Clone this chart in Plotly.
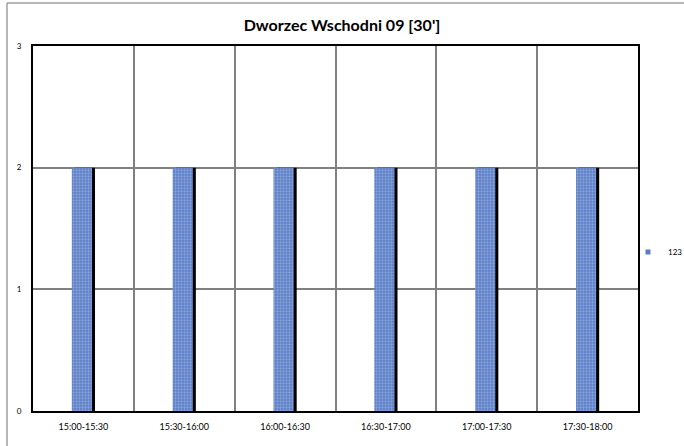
import plotly.graph_objects as go

categories = ["15:00-15:30", "15:30-16:00", "16:00-16:30", "16:30-17:00", "17:00-17:30", "17:30-18:00"]
values = [2, 2, 2, 2, 2, 2]
series_name = "123"
title = "Dworzec Wschodni 09 [30']"
y_ticks = [0, 1, 2, 3]

FONT = "Lato, 'Liberation Sans', sans-serif"
BAR_COLOR = "#5a7ec6"

fig = go.Figure()
# shadow
fig.add_trace(go.Bar(
    x=categories, y=values, width=0.2, offset=-0.085,
    marker=dict(color="black", line=dict(width=0)),
    showlegend=False, hoverinfo="skip",
))
fig.add_trace(go.Bar(
    x=categories, y=values, width=0.2, offset=-0.115, name=series_name, showlegend=False,
    marker=dict(color=BAR_COLOR, line=dict(width=0),
                pattern=dict(shape=".", fgcolor="#b7c8ec", size=3, solidity=0.45, fillmode="overlay")),
))
# legend entry with a small square symbol
fig.add_trace(go.Scatter(
    x=[None], y=[None], mode="markers", name=series_name,
    marker=dict(symbol="square", size=5, color=BAR_COLOR),
))

W, H = 684, 446
ml, mr, mt, mb = 33, 46, 46, 35
pw, ph = W - ml - mr, H - mt - mb

fig.update_layout(
    width=W, height=H,
    margin=dict(l=ml, r=mr, t=mt, b=mb, autoexpand=False),
    paper_bgcolor="white", plot_bgcolor="white",
    barmode="overlay",
    font=dict(family=FONT, size=8, color="black"),
    title=dict(text="<b>" + title + "</b>", x=0.5, xanchor="center", y=1 - 25 / H, yanchor="middle",
               font=dict(family=FONT, size=16, color="black")),
    showlegend=True,
    legend=dict(x=(628 - ml) / pw, y=(H - mb - 252) / ph,
                xanchor="left", yanchor="middle", font=dict(size=8, family=FONT),
                bgcolor="rgba(0,0,0,0)", itemwidth=30, tracegroupgap=0),
    xaxis=dict(type="category", tickson="boundaries", showgrid=True, gridcolor="#808080", gridwidth=1.5,
               showline=True, linecolor="black", linewidth=2, mirror=True, ticks="",
               tickfont=dict(size=9), ticklabelstandoff=6, range=[-0.5, 5.5], automargin=False),
    yaxis=dict(range=[0, 3], tickvals=y_ticks, showgrid=True, gridcolor="#808080", gridwidth=1.5,
               showline=True, linecolor="black", linewidth=2, mirror=True, ticks="",
               tickfont=dict(size=8), zeroline=False, ticklabelstandoff=8, automargin=False),
)

# outer chart border (top and left visible)
x0 = (7 - ml) / pw
y0 = 1 + (mt - 3) / ph
fig.add_shape(type="line", xref="paper", yref="paper", x0=x0, x1=(W - ml) / pw, y0=y0, y1=y0,
              line=dict(color="#a0a0a0", width=1.5))
fig.add_shape(type="line", xref="paper", yref="paper", x0=x0, x1=x0, y0=y0, y1=-(mb + 2) / ph,
              line=dict(color="#a0a0a0", width=1.5))

fig.write_html("out.html", config={"displayModeBar": False},
               post_script="document.body.style.margin='0';document.body.style.overflow='hidden';")
